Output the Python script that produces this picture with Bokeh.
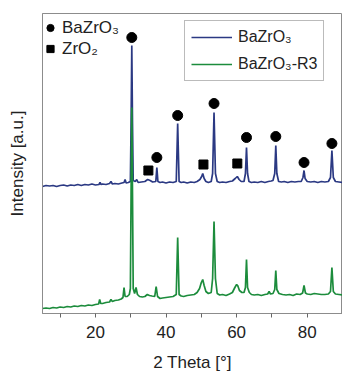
from bokeh.plotting import figure
from bokeh.models import Range1d, Legend, LegendItem, FixedTicker
from bokeh.embed import file_html
from bokeh.resources import INLINE

# ---- data ----
bzo_x = [5, 6, 7, 8, 9, 10, 11, 12, 13, 14, 15, 16, 17, 18, 19, 20, 21, 21.3, 21.6, 22, 23, 24, 24.4, 24.8,
         25.5, 26.5, 27.5, 28.1, 28.4, 28.7, 29.3, 29.9, 30.1, 30.3, 30.5, 30.7, 31.3, 31.7, 32.1, 33, 34,
         34.8, 35.5, 36.2, 37.1, 37.4, 37.7, 38.3, 39, 40, 41, 42, 42.9, 43.3, 43.7, 44.3, 45, 46, 47, 48,
         48.8, 49.6, 50.1, 50.4, 50.8, 51.3, 52, 52.8, 53.2, 53.6, 54.0, 54.5, 55.2, 56, 57, 58, 58.8, 59.6,
         60.2, 60.7, 61.3, 62.1, 62.5, 62.8, 63.1, 63.5, 64.2, 65, 66, 67, 68, 69, 69.8, 70.3, 70.8, 71.1,
         71.4, 71.9, 72.7, 73.5, 74.5, 75.5, 76.5, 77.5, 78.3, 78.8, 79.1, 79.4, 80, 81, 82, 83, 84, 85, 86,
         86.6, 87.0, 87.4, 88, 89, 90]
bzo_y = [127, 128, 127.5, 128, 127, 128, 128.5, 127.5, 128.5, 128, 129, 128, 129, 128.5, 129.5, 128.5, 129, 131,
         129, 129.5, 129, 130, 132, 129.5, 130, 129.5, 130.5, 131, 134, 130.5, 131, 132, 190, 268, 190, 133, 132,
         134, 131, 131.5, 132, 134, 133, 131.5, 132, 146, 132, 131, 131.5, 130.5, 131.5, 131, 132, 190, 132,
         131, 131.5, 130.5, 131.5, 131, 132, 134, 137, 140, 135, 132, 131, 132, 140, 201, 140, 132, 131, 131.5,
         131, 132, 132.5, 135, 137, 134, 132, 132, 140, 166, 140, 132, 131, 131.5, 131, 132, 131, 132, 132.5,
         133, 140, 168, 140, 132, 131.5, 132, 131, 132, 131.5, 132, 132, 136, 143, 135, 132, 131.5, 132, 131,
         132, 131.5, 132, 136, 163, 136, 132, 131.5, 131]

r3_x = [5, 6, 7, 8, 9, 10, 11, 12, 13, 14, 15, 16, 17, 18, 19, 20, 20.9, 21.2, 21.5, 22, 23, 24, 24.4, 24.8, 25.5,
        26.5, 27.3, 27.8, 28.1, 28.4, 29, 29.6, 29.9, 30.1, 30.3, 30.5, 30.7, 31.1, 31.5, 31.9, 32.5, 33.3, 34,
        34.7, 35.3, 36, 36.8, 37.2, 37.6, 38.3, 39, 40, 41, 42, 42.9, 43.3, 43.7, 44.3, 45, 46, 47, 48, 48.8,
        49.5, 50, 50.4, 50.8, 51.3, 52, 52.8, 53.2, 53.6, 54.0, 54.5, 55.2, 56, 57, 58, 58.8, 59.5, 60, 60.3,
        60.8, 61.5, 62.1, 62.5, 62.8, 63.1, 63.6, 64.2, 65, 66, 67, 68, 68.8, 69.2, 69.6, 70.3, 70.8, 71.1, 71.4,
        72, 73, 74, 75, 76, 77, 78, 78.7, 79.1, 79.5, 80, 81, 82, 83, 84, 85, 86, 86.6, 87.0, 87.4, 88, 89, 90]
r3_y = [5, 5.5, 5, 6, 5.5, 6.5, 6, 7, 6.5, 7.5, 7, 8, 7.5, 8.5, 8, 9, 9.5, 14, 10, 10, 11, 11.5, 14, 12, 13,
        13.5, 14.5, 16, 26, 17, 17, 19, 25, 120, 206, 120, 25, 20, 26, 19, 17, 16.5, 17, 19, 18, 17.5, 17, 27,
        17, 15, 15.5, 16, 16.5, 17, 19, 76, 19, 17.5, 17, 18, 18.5, 19, 21, 25, 31, 34, 28, 22, 20, 21, 35, 92,
        35, 20, 18.5, 19, 18, 19.5, 21, 26, 29, 28, 23, 21, 21, 26, 54, 26, 21, 19, 18.5, 19, 18, 19, 19.5, 22,
        19.5, 20, 24, 43, 24, 20, 19, 18.5, 19, 18, 19.5, 19, 20.5, 28, 20.5, 19.5, 19, 20, 19.5, 19, 19, 19.5,
        22, 46, 22, 19.5, 19, 18.5]

# reflection markers
bzo_peak_x = [30.3, 37.4, 43.3, 53.6, 62.8, 71.1, 79.1, 87.0]
bzo_mark_y = [276, 156, 198, 210, 176, 177, 151, 170]
zro2_peak_x = [35.0, 50.6, 60.2]
zro2_mark_y = [143, 149, 150]

x_ticks = [10, 20, 30, 40, 50, 60, 70, 80, 90]
x_tick_labels = {10: "", 20: "20", 30: "", 40: "40", 50: "", 60: "60", 70: "", 80: "80", 90: ""}

BLUE = "#2b3983"
GREEN = "#1c8c3c"
FONT = "Liberation Sans"

p = figure(width=342, height=374, output_backend="svg", toolbar_location=None,
           x_range=Range1d(5, 90), y_range=Range1d(0, 300),
           min_border_left=42, min_border_right=0, min_border_top=13, min_border_bottom=61)
p.grid.visible = False
p.outline_line_color = "#8c8c8c"
p.outline_line_width = 1
p.background_fill_color = "white"
p.border_fill_color = "white"

l1 = p.line(bzo_x, bzo_y, line_color=BLUE, line_width=1.7)
l2 = p.line(r3_x, r3_y, line_color=GREEN, line_width=1.7)
c = p.scatter(bzo_peak_x, bzo_mark_y, marker="circle", size=10, fill_color="black", line_color="black")
s = p.scatter(zro2_peak_x, zro2_mark_y, marker="square", size=9, fill_color="black", line_color="black")

xa = p.xaxis[0]
xa.ticker = FixedTicker(ticks=x_ticks)
xa.major_label_overrides = x_tick_labels
xa.minor_tick_line_color = None
xa.major_tick_in = 0
xa.major_tick_out = 4
xa.major_tick_line_color = "#666666"
xa.axis_line_color = "#8c8c8c"
xa.major_label_text_font = FONT
xa.major_label_text_font_size = "17px"
xa.major_label_text_color = "#222222"
xa.major_label_standoff = 8
xa.axis_label = "2 Theta [°]"
xa.axis_label_text_font = FONT
xa.axis_label_text_font_size = "17px"
xa.axis_label_text_font_style = "normal"
xa.axis_label_text_color = "#222222"
xa.axis_label_standoff = 12

ya = p.yaxis[0]
ya.ticker = FixedTicker(ticks=[])
ya.minor_tick_line_color = None
ya.major_tick_line_color = None
ya.axis_line_color = "#8c8c8c"
ya.axis_label = "Intensity [a.u.]"
ya.axis_label_text_font = FONT
ya.axis_label_text_font_size = "17px"
ya.axis_label_text_font_style = "normal"
ya.axis_label_text_color = "#222222"
ya.axis_label_standoff = 16

leg = Legend(items=[LegendItem(label="BaZrO₃", renderers=[l1]),
                    LegendItem(label="BaZrO₃-R3", renderers=[l2])],
             location=(142, 232))
leg.border_line_color = "#777777"
leg.border_line_width = 1
leg.background_fill_color = "white"
leg.background_fill_alpha = 1
leg.label_text_font = FONT
leg.label_text_font_size = "16px"
leg.label_text_color = "#222222"
leg.glyph_width = 41
leg.glyph_height = 20
leg.label_height = 20
leg.spacing = 7
leg.padding = 6
leg.margin = 0
leg.label_standoff = 6
p.add_layout(leg)

leg2 = Legend(items=[LegendItem(label="BaZrO₃", renderers=[c]),
                     LegendItem(label="ZrO₂", renderers=[s])],
              location=(-1, 254))
leg2.border_line_color = None
leg2.background_fill_alpha = 0
leg2.label_text_font = FONT
leg2.label_text_font_size = "17px"
leg2.label_text_color = "#222222"
leg2.glyph_width = 18
leg2.glyph_height = 21
leg2.label_height = 21
leg2.spacing = 0
leg2.padding = 0
leg2.margin = 0
leg2.label_standoff = 3
p.add_layout(leg2)

open("out.html", "w").write(file_html(p, INLINE))
